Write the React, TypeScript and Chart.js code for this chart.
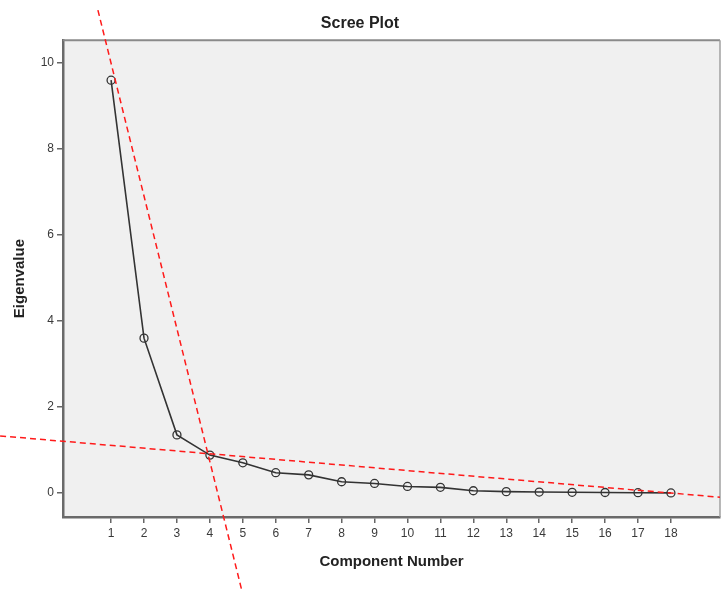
import React, { useEffect, useRef } from "react";
import { Chart, registerables } from "chart.js";

Chart.register(...registerables);

const components = [1, 2, 3, 4, 5, 6, 7, 8, 9, 10, 11, 12, 13, 14, 15, 16, 17, 18];
const eigenvalues = [9.6, 3.6, 1.35, 0.88, 0.7, 0.47, 0.42, 0.26, 0.22, 0.15, 0.13, 0.05, 0.03, 0.02, 0.015, 0.01, 0.005, 0.0];
const yTicks = [0, 2, 4, 6, 8, 10];
const xTicks = components;
// reference (elbow) lines, given as two points in data space each
const steepLine = [{ x: 0.6, y: 11.23 }, { x: 4.98, y: -2.3 }];
const flatLine = [{ x: -2.37, y: 1.326 }, { x: 19.49, y: -0.1 }];

const FONT = "'Liberation Sans', Arial, sans-serif";

const framePlugin = {
  id: "frame",
  beforeDraw(chart: any) {
    const { ctx, chartArea: a } = chart;
    ctx.save();
    ctx.fillStyle = "#f0f0f0";
    ctx.fillRect(a.left, a.top, a.right - a.left, a.bottom - a.top);
    ctx.restore();
  },
  afterDraw(chart: any) {
    const { ctx, chartArea: a } = chart;
    ctx.save();
    ctx.strokeStyle = "#8a8a8a";
    ctx.lineWidth = 2;
    ctx.beginPath();
    ctx.moveTo(a.left, a.top);
    ctx.lineTo(a.right, a.top);
    ctx.stroke();
    ctx.strokeStyle = "#a0a0a0";
    ctx.lineWidth = 1.5;
    ctx.beginPath();
    ctx.moveTo(a.right, a.top);
    ctx.lineTo(a.right, a.bottom);
    ctx.stroke();
    // reference lines drawn across the whole canvas
    const xs = chart.scales.x;
    const ys = chart.scales.y;
    ctx.strokeStyle = "#ff1a1a";
    ctx.lineWidth = 1.5;
    ctx.setLineDash([6, 4]);
    [steepLine, flatLine].forEach((ln) => {
      ctx.beginPath();
      ctx.moveTo(xs.getPixelForValue(ln[0].x), ys.getPixelForValue(ln[0].y));
      ctx.lineTo(xs.getPixelForValue(ln[1].x), ys.getPixelForValue(ln[1].y));
      ctx.stroke();
    });
    ctx.restore();
  },
};

export default function App() {
  const ref = useRef<HTMLCanvasElement | null>(null);
  useEffect(() => {
    if (!ref.current) return;
    const chart = new Chart(ref.current, {
      type: "line",
      data: {
        datasets: [
          {
            data: components.map((c, i) => ({ x: c, y: eigenvalues[i] })),
            borderColor: "#333333",
            borderWidth: 1.6,
            pointRadius: 4,
            pointBorderWidth: 1.3,
            pointBorderColor: "#333333",
            pointBackgroundColor: "rgba(0,0,0,0)",
            tension: 0,
            fill: false,
          },
        ],
      },
      options: {
        animation: false,
        responsive: false,
        maintainAspectRatio: false,
        layout: { autoPadding: false, padding: { left: 0, right: 1, top: 0, bottom: 0 } },
        plugins: {
          legend: { display: false },
          tooltip: { enabled: false },
          title: {
            display: true,
            text: "Scree Plot",
            color: "#222",
            font: { family: FONT, size: 16, weight: "bold" },
            padding: { top: 14, bottom: 7 },
          },
        },
        scales: {
          x: {
            type: "linear",
            min: -0.46,
            max: 19.49,
            afterBuildTicks: (s: any) => {
              s.ticks = xTicks.map((v) => ({ value: v }));
            },
            afterFit: (s: any) => {
              s.height = 78;
              s.paddingLeft = 0;
              s.paddingRight = 0;
            },
            grid: {
              drawOnChartArea: false,
              drawTicks: true,
              tickLength: 6,
              color: "#666",
              lineWidth: 1.5,
            },
            border: { display: true, color: "#6a6a6a", width: 2.5 },
            ticks: {
              color: "#3a3a3a",
              font: { family: FONT, size: 12 },
              padding: 3,
              autoSkip: false,
              maxRotation: 0,
              callback: (v: any) => String(v),
            },
            title: {
              display: true,
              text: "Component Number",
              color: "#222",
              font: { family: FONT, size: 15, weight: "bold" },
              padding: { top: 0, bottom: 24 },
            },
          },
          y: {
            type: "linear",
            min: -0.56,
            max: 10.53,
            afterBuildTicks: (s: any) => {
              s.ticks = yTicks.map((v) => ({ value: v }));
            },
            afterFit: (s: any) => {
              s.width = 63;
              s.paddingTop = 0;
              s.paddingBottom = 0;
            },
            grid: {
              drawOnChartArea: false,
              drawTicks: true,
              tickLength: 6,
              color: "#666",
              lineWidth: 1.5,
            },
            border: { display: true, color: "#6a6a6a", width: 2.5 },
            ticks: {
              color: "#3a3a3a",
              font: { family: FONT, size: 12 },
              padding: 3,
              callback: (v: any) => String(v),
            },
            title: {
              display: true,
              text: "Eigenvalue",
              color: "#222",
              font: { family: FONT, size: 15, weight: "bold" },
              padding: { top: 11, bottom: 11 },
            },
          },
        },
      },
      plugins: [framePlugin],
    });
    return () => chart.destroy();
  }, []);
  return (
    <div style={{ position: "fixed", left: 0, top: 0, width: 721, height: 595, background: "#fff" }}>
      <canvas ref={ref} width={721} height={595} style={{ display: "block" }} />
    </div>
  );
}
